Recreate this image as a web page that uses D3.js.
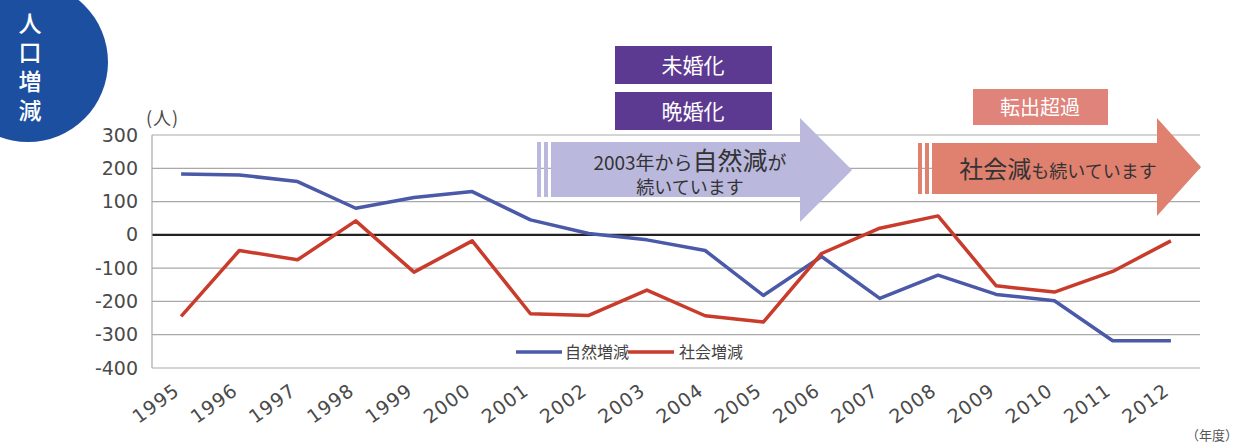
<!DOCTYPE html>
<html lang="ja">
<head>
<meta charset="UTF-8">
<title>人口増減</title>
<script src="https://d3js.org/d3.v7.min.js"></script>
<style>
  body { margin: 0; background: #fff; }
  svg { display: block; }
</style>
</head>
<body>
<div id="chart"></div>
<script>
// data
const years = ["1995","1996","1997","1998","1999","2000","2001","2002","2003",
               "2004","2005","2006","2007","2008","2009","2010","2011","2012"];
const naturalChange = [183, 180, 160, 80, 112, 130, 45, 4, -15, -47, -182, -65, -191, -121, -179, -198, -318, -318];
const socialChange = [-245, -47, -75, 42, -112, -18, -237, -242, -166, -243, -262, -56, 20, 57, -153, -172, -110, -18];
const yTicks = [300, 200, 100, 0, -100, -200, -300, -400];
const seriesNames = ["自然増減", "社会増減"];
const seriesColors = ["#4a59a8", "#c93b2a"];

const W = 1239, H = 448;
const font = "'Noto Sans CJK JP', sans-serif";
const numFont = "'DejaVu Sans', sans-serif";

const svg = d3.select("#chart").append("svg")
  .attr("width", W).attr("height", H);

const x = d3.scaleBand().domain(years).range([152, 1200]);
const y = d3.scaleLinear().domain([-400, 300]).range([368, 135]);
const cx = d => x(d) + x.bandwidth() / 2;

// badge
svg.append("circle").attr("cx", 28).attr("cy", 62).attr("r", 80).attr("fill", "#1c4f9f");
svg.append("text").attr("x", 30).attr("y", 12)
  .attr("fill", "#fff")
  .style("writing-mode", "vertical-rl")
  .style("font-family", font).style("font-size", "23px").style("font-weight", 500)
  .style("letter-spacing", "6px")
  .text("人口増減");

// grid
svg.append("g").selectAll("line").data(yTicks).join("line")
  .attr("x1", 152).attr("x2", 1200)
  .attr("y1", d => y(d)).attr("y2", d => y(d))
  .attr("stroke", d => d === 0 ? "#222" : "#a9a9a9")
  .attr("stroke-width", d => d === 0 ? 2.2 : 1.2);

svg.append("line").attr("x1", 152).attr("x2", 152).attr("y1", y(300)).attr("y2", y(-400))
  .attr("stroke", "#a9a9a9").attr("stroke-width", 1.2);

// y axis labels
const yAxis = svg.append("g").attr("transform", "translate(152,0)")
  .call(d3.axisLeft(y).tickValues(yTicks).tickFormat(d => String(d)).tickSize(0).tickPadding(14));
yAxis.select(".domain").remove();
yAxis.selectAll("text").style("font-family", numFont).style("font-size", "19px").attr("fill", "#4a4a4a");

svg.append("text").attr("x", 146).attr("y", 125)
  .style("font-family", font).style("font-size", "18px").attr("fill", "#4a4a4a")
  .attr("letter-spacing", "1")
  .text("(人)");

// x axis labels
const xAxis = svg.append("g").attr("transform", "translate(0,368)")
  .call(d3.axisBottom(x).tickSize(0));
xAxis.select(".domain").remove();
xAxis.selectAll("text")
  .attr("text-anchor", "end")
  .attr("dy", 0)
  .attr("transform", "translate(-2,23) rotate(-36)")
  .style("font-family", numFont).style("font-size", "19px").attr("fill", "#4a4a4a")
  .attr("letter-spacing", "1");

svg.append("text").attr("x", 1238).attr("y", 440).attr("text-anchor", "end")
  .style("font-family", font).style("font-size", "13px").attr("fill", "#555")
  .text("（年度）");

// purple boxes
[["未婚化", 46], ["晩婚化", 92]].forEach(([t, top]) => {
  svg.append("rect").attr("x", 615).attr("y", top).attr("width", 157).attr("height", 38).attr("fill", "#5d3a92");
  svg.append("text").attr("x", 693).attr("y", top + 27).attr("text-anchor", "middle")
    .attr("fill", "#fff").style("font-family", font).style("font-size", "21px").text(t);
});

// salmon box
svg.append("rect").attr("x", 973).attr("y", 89).attr("width", 135).attr("height", 36).attr("fill", "#e0837a");
svg.append("text").attr("x", 1040).attr("y", 115).attr("text-anchor", "middle")
  .attr("fill", "#fff").style("font-family", font).style("font-size", "20px").text("転出超過");

// arrows
function arrow(x0, x1, xh, tip, top, bot, htop, hbot, color) {
  const g = svg.append("g");
  g.append("rect").attr("x", x0).attr("y", top).attr("width", 4).attr("height", bot - top).attr("fill", color);
  g.append("rect").attr("x", x0 + 7).attr("y", top).attr("width", 4).attr("height", bot - top).attr("fill", color);
  const mid = (htop + hbot) / 2;
  g.append("polygon").attr("fill", color)
    .attr("points", [[x1, top], [xh, top], [xh, htop], [tip, mid], [xh, hbot], [xh, bot], [x1, bot]].join(" "));
}
arrow(537, 551, 800, 852, 142, 197, 118, 222, "#bab8dd");
arrow(918, 932, 1157, 1201, 143, 194, 118, 216, "#e0806f");

const t1 = svg.append("text").attr("x", 690).attr("y", 170).attr("text-anchor", "middle")
  .attr("fill", "#333").style("font-family", font);
t1.append("tspan").style("font-size", "19px").text("2003年から");
t1.append("tspan").style("font-size", "25px").text("自然減");
t1.append("tspan").style("font-size", "19px").text("が");
svg.append("text").attr("x", 690).attr("y", 194).attr("text-anchor", "middle")
  .attr("fill", "#333").style("font-family", font).style("font-size", "18px").text("続いています");

const t2 = svg.append("text").attr("x", 1058).attr("y", 178).attr("text-anchor", "middle")
  .attr("fill", "#333").style("font-family", font);
t2.append("tspan").style("font-size", "24px").text("社会減");
t2.append("tspan").style("font-size", "18px").text("も続いています");

// lines
const line = d3.line().x((d, i) => cx(years[i])).y(d => y(d));
[naturalChange, socialChange].forEach((s, k) => {
  svg.append("path").datum(s).attr("d", line)
    .attr("fill", "none").attr("stroke", seriesColors[k])
    .attr("stroke-width", 3.5).attr("stroke-linejoin", "round");
});

// legend
const lg = svg.append("g").attr("transform", "translate(516,352)");
[[0, 49], [112, 163]].forEach(([lx, tx], k) => {
  lg.append("line").attr("x1", lx).attr("x2", lx + 46).attr("y1", 0).attr("y2", 0)
    .attr("stroke", seriesColors[k]).attr("stroke-width", 3.5);
  lg.append("text").attr("x", tx).attr("y", 6)
    .style("font-family", font).style("font-size", "16px").attr("fill", "#444")
    .text(seriesNames[k]);
});
</script>
</body>
</html>
